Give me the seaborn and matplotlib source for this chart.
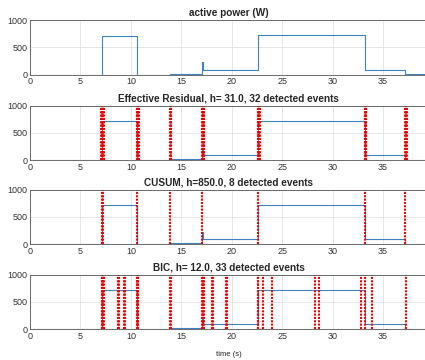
import numpy as np
import pandas as pd
import seaborn as sns
from matplotlib import pyplot as plt

''' Data '''
# step signal of the active power (time in s, power in W)
step_time = [0.0, 7.1, 10.65, 13.9, 17.1, 17.16, 22.6, 33.2, 37.2, 39.4]
step_power = [0, 720, 0, 12, 230, 92, 725, 92, 5, 5]

# detected events per method (time in s)
er_events = [7.05, 7.1, 7.15, 7.2, 7.25, 7.3,
             10.6, 10.65, 10.7, 10.75, 10.8,
             13.9, 13.95, 14.0,
             17.1, 17.15, 17.2, 17.25, 17.3,
             22.6, 22.65, 22.7, 22.75, 22.8,
             33.2, 33.25, 33.3, 33.35,
             37.2, 37.25, 37.3, 37.35]
cusum_events = [7.1, 7.2, 10.65, 13.9, 17.1, 22.6, 33.2, 37.2]
bic_events = [7.1, 7.15, 7.2, 7.25, 7.3, 8.75, 8.8, 9.35, 9.4,
              10.6, 10.65, 10.7, 10.75, 13.9, 13.95,
              17.1, 17.15, 17.2, 17.25, 18.05, 18.1, 19.45, 19.5,
              22.6, 22.65, 23.15, 24.0, 28.25, 28.65,
              32.85, 33.2, 33.95, 37.25]

titles = ["active power (W)",
          "Effective Residual, h= 31.0, 32 detected events",
          "CUSUM, h=850.0, 8 detected events",
          "BIC, h= 12.0, 33 detected events"]
event_lists = [[], er_events, cusum_events, bic_events]

x_ticks = [0, 5, 10, 15, 20, 25, 30, 35]
y_ticks = [0, 500, 1000]

''' Style '''
sns.set_style("whitegrid", {"grid.color": "#e3e3e3", "axes.edgecolor": "#555555",
                            "xtick.direction": "in", "ytick.direction": "in"})
plt.rcParams['font.family'] = ['Liberation Sans', 'DejaVu Sans']

df = pd.DataFrame({"time": step_time, "power": step_power})

fig = plt.figure(figsize=(4.25, 3.6), dpi=100)
tops = [0.9436, 0.7064, 0.473, 0.237]
height = 0.151

for i, (title, events) in enumerate(zip(titles, event_lists)):
    ax = fig.add_axes([0.0706, tops[i] - height, 0.935, height])
    sns.lineplot(data=df, x="time", y="power", ax=ax, estimator=None,
                 drawstyle="steps-post", color="#3c84c4", linewidth=0.8)
    for t in events:
        ax.axvline(t, color="#ee0000", linestyle=(0, (1, 0.6)), linewidth=1.5)
    ax.set_xlim(0, 39.4)
    ax.set_ylim(0, 1000)
    ax.set_xticks(x_ticks)
    ax.set_yticks(y_ticks)
    ax.tick_params(labelsize=6.5, colors="#333333", length=2.5, width=0.5, pad=2)
    for s in ax.spines.values():
        s.set_linewidth(0.6)
    ax.grid(True, linewidth=0.6)
    ax.set_title(title, fontsize=7.2, fontweight="bold", pad=3)
    ax.set_ylabel("")
    if i == 3:
        ax.set_xlabel("time (s)", fontsize=5.5, labelpad=7)
    else:
        ax.set_xlabel("")

fig.savefig("out.png", dpi=100)
